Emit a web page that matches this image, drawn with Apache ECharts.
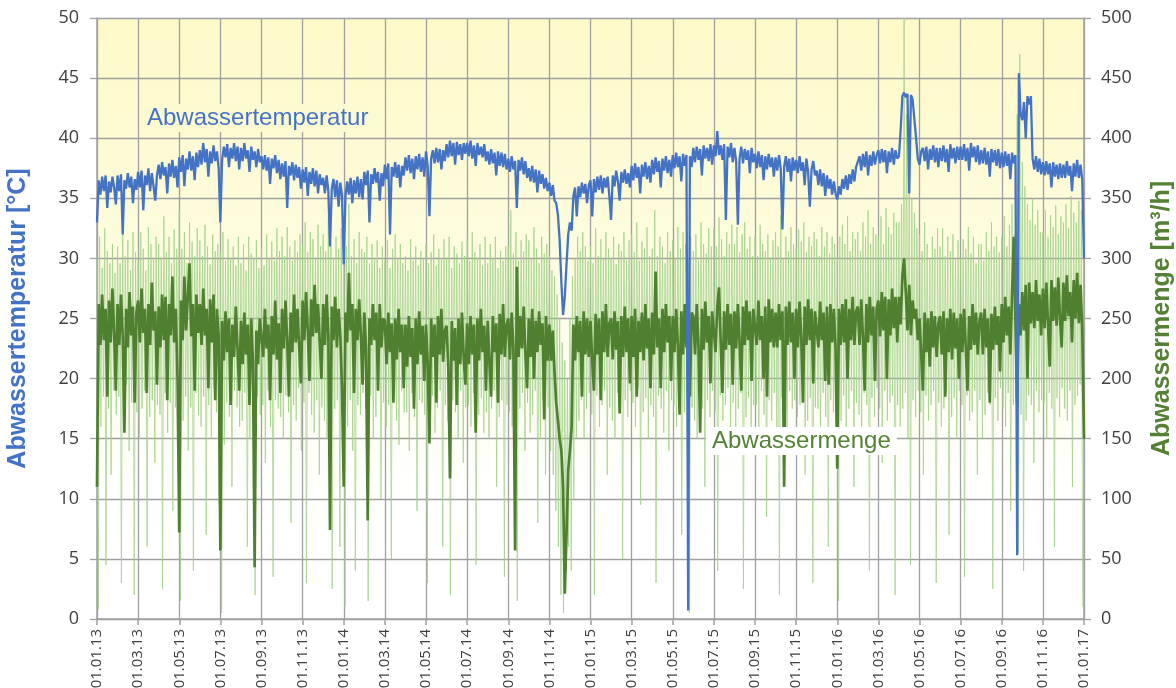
<!DOCTYPE html>
<html><head><meta charset="utf-8">
<script src="https://cdn.jsdelivr.net/npm/echarts@6/dist/echarts.min.js"></script>
<style>html,body{margin:0;padding:0;background:#fff}#c{width:1176px;height:688px}</style>
</head><body><div id="c"></div>
<script>
// x tick labels (every 2 months, x axis unit = month index from 01.01.13)
const xLabels = ['01.01.13','01.03.13','01.05.13','01.07.13','01.09.13','01.11.13',
  '01.01.14','01.03.14','01.05.14','01.07.14','01.09.14','01.11.14',
  '01.01.15','01.03.15','01.05.15','01.07.15','01.09.15','01.11.15',
  '01.01.16','01.03.16','01.05.16','01.07.16','01.09.16','01.11.16','01.01.17'];

// Abwassertemperatur [°C], 12 readings per month (Jan 2013 ... Dec 2016) + 01.01.17
const temperature = [
 33.0,36.5,35.3,36.8,35.6,36.9,34.2,36.4,35.5,36.8,35.9,34.5,
 36.9,35.6,37.0,32.0,36.5,35.8,37.1,35.9,36.8,34.6,36.6,35.7,
 37.2,35.9,37.3,34.0,36.9,36.1,37.5,35.6,37.1,36.0,34.8,36.9,
 37.8,36.6,38.0,36.9,37.6,35.4,37.9,36.8,38.2,36.7,37.7,35.9,
 38.4,37.2,38.6,36.0,38.3,37.4,38.9,37.3,38.5,36.5,38.8,37.6,
 39.0,37.8,39.6,38.0,39.1,36.8,38.9,37.9,39.4,38.1,38.9,37.5,
 33.0,38.2,39.3,38.4,39.5,37.6,39.2,38.3,39.6,38.1,39.3,37.4,
 39.2,38.1,39.6,38.3,39.0,37.2,39.3,38.2,38.9,37.6,39.1,38.0,
 38.5,37.4,38.6,37.3,38.4,36.2,38.3,37.5,38.6,37.1,38.2,36.6,
 37.9,36.8,38.1,34.2,37.7,36.9,38.0,36.5,37.8,36.7,37.6,35.8,
 37.4,36.3,37.6,35.2,37.2,36.2,37.5,36.0,37.3,35.4,37.0,36.1,
 36.7,35.4,36.9,35.6,31.0,35.8,36.6,35.1,36.5,34.3,36.3,35.2,
 29.5,35.2,36.4,35.3,36.7,34.6,36.5,35.4,36.8,35.1,36.6,34.9,
 37.2,36.1,37.3,33.0,37.0,36.2,37.5,36.3,37.2,34.8,37.1,36.0,
 37.8,36.6,37.9,32.0,37.6,36.8,38.0,36.7,37.8,35.9,37.7,36.9,
 38.4,37.3,38.6,37.1,38.3,36.6,38.5,37.4,38.7,37.2,38.4,36.8,
 38.9,37.7,33.5,38.3,39.0,37.9,39.2,38.0,39.1,37.4,39.0,38.1,
 39.5,38.4,39.8,38.5,39.6,37.8,39.7,38.6,39.5,38.2,39.6,38.7,
 39.6,38.5,39.8,38.3,39.4,37.7,39.6,38.6,39.3,38.4,39.5,38.1,
 38.9,37.8,39.1,37.9,38.8,36.9,38.9,37.7,38.8,37.6,38.7,37.4,
 38.3,37.2,38.5,37.4,38.1,34.2,38.2,37.3,38.4,37.0,38.1,36.7,
 37.5,36.4,37.7,36.3,37.4,35.5,37.3,36.2,37.0,35.8,36.7,35.6,
 36.3,35.2,36.1,34.8,34.6,33.6,31.5,28.0,25.3,26.8,29.5,32.0,
 33.0,32.3,35.2,35.9,33.5,36.0,35.1,36.3,35.4,36.2,34.6,36.1,
 36.5,33.5,36.6,35.5,36.8,35.7,36.9,35.4,36.7,35.9,36.8,35.2,
 33.2,36.9,36.0,37.3,36.4,34.8,37.2,36.3,37.4,36.2,37.1,35.9,
 37.7,36.5,37.9,36.7,37.6,35.4,37.8,36.8,38.0,36.6,37.7,36.3,
 38.2,37.0,38.4,37.2,38.1,35.9,38.3,37.3,38.5,37.1,38.2,36.8,
 38.6,37.5,38.8,37.6,38.5,36.4,38.7,37.7,38.6,0.7,38.5,37.6,
 39.2,38.0,39.3,38.2,39.1,36.9,39.4,38.3,39.2,38.1,39.5,37.8,
 39.4,38.5,40.6,38.6,39.4,38.2,39.5,33.2,39.3,38.4,39.6,38.0,
 39.2,38.1,32.8,38.3,39.3,37.9,39.1,38.2,39.0,37.1,39.2,38.0,
 38.7,37.5,38.9,37.6,38.6,36.5,38.5,37.4,38.7,37.6,38.4,36.8,
 38.4,37.3,38.6,37.5,32.4,37.6,38.5,37.2,38.3,36.4,38.4,37.3,
 38.2,37.1,38.5,37.3,38.0,36.1,38.3,37.2,34.3,37.4,38.1,36.9,
 37.3,36.1,37.4,36.0,37.1,35.2,36.9,35.8,36.6,35.3,36.4,35.4,
 34.9,36.0,35.3,36.6,35.8,36.9,35.7,37.0,36.2,37.4,36.4,37.6,
 37.6,38.5,37.3,38.7,37.6,38.9,36.9,38.6,37.7,38.9,37.8,38.6,
 39.0,37.9,39.1,38.0,39.0,37.1,38.9,38.0,39.2,37.8,39.0,38.3,
 38.5,40.7,43.5,43.8,43.4,43.7,35.4,43.6,43.2,43.1,40.0,38.3,
 37.8,38.9,39.2,38.1,39.3,37.4,39.1,38.2,39.4,38.0,39.2,37.6,
 39.2,38.1,39.4,38.0,39.1,37.2,39.5,38.3,39.2,37.9,39.3,38.2,
 39.3,38.2,39.5,38.1,39.2,37.3,39.6,38.4,39.3,38.0,39.4,37.8,
 39.0,37.9,39.2,37.8,38.9,36.8,39.1,38.0,39.0,37.7,39.1,37.5,
 38.8,37.6,38.9,37.7,38.7,36.6,38.8,37.9,38.6,5.3,45.4,42.0,
 41.5,43.0,40.0,43.5,42.8,43.5,38.3,37.4,38.5,37.2,38.3,37.0,
 38.0,36.9,38.1,37.0,37.9,35.9,38.0,36.8,37.8,36.6,37.9,36.7,
 37.8,36.7,38.1,36.9,37.7,35.6,37.9,36.8,38.2,36.7,37.8,36.5,
 30.0];

// Abwassermenge [m³/h], daily mean, 12 readings per month + 01.01.17
const flowMean = [
 110,262,228,270,232,258,185,265,230,275,238,190,
 262,228,270,235,155,258,226,272,236,260,180,255,
 265,230,275,238,258,188,262,228,280,240,256,195,
 260,226,270,232,268,182,262,236,285,230,258,200,
 72,265,232,285,240,268,296,235,262,190,270,238,
 262,228,275,236,258,192,266,230,270,182,258,236,
 57,248,215,256,222,250,178,245,218,260,225,190,
 248,212,255,220,245,178,250,215,43,240,212,250,
 250,218,258,225,245,182,252,220,265,216,246,188,
 258,225,265,232,185,255,222,270,230,258,226,196,
 265,232,272,240,198,266,235,278,238,262,230,200,
 262,228,270,236,74,260,232,268,226,258,235,190,
 110,255,230,288,240,262,188,258,232,266,236,195,
 255,225,82,250,228,262,232,255,190,262,226,250,
 248,212,255,222,246,180,250,216,258,222,245,192,
 245,210,252,218,242,175,250,212,256,220,244,198,
 245,212,146,250,218,245,180,252,220,258,214,240,
 244,210,117,248,215,242,178,250,212,255,218,195,
 246,212,252,220,245,155,250,215,258,222,244,190,
 248,214,185,252,222,246,180,254,220,262,218,245,
 250,216,255,225,57,293,218,252,225,260,220,192,
 250,218,258,200,248,222,256,228,246,166,252,215,
 245,215,240,205,180,165,150,140,110,21,70,124,
 140,160,245,215,252,222,248,185,256,220,250,218,
 248,215,190,254,220,250,182,256,222,262,218,246,
 250,216,256,224,248,171,252,218,260,222,250,196,
 252,218,258,185,248,222,255,215,262,225,250,192,
 255,220,289,226,250,192,258,222,262,230,252,198,
 252,222,258,228,170,256,220,262,226,250,185,255,
 252,220,262,228,155,258,224,264,230,252,196,256,
 255,222,260,276,230,188,256,224,262,228,254,195,
 256,225,262,230,190,260,228,265,232,256,198,258,
 258,228,265,232,252,200,260,185,266,230,258,226,
 255,226,262,232,256,110,260,228,264,230,255,200,
 258,226,264,234,180,260,228,266,232,258,196,256,
 256,226,264,232,255,198,260,195,262,230,258,225,
 125,258,228,262,230,266,200,258,232,268,228,256,
 260,228,266,234,190,262,230,268,236,260,198,258,
 265,235,272,240,268,200,266,236,275,242,268,230,
 268,245,285,300,272,240,278,236,265,250,258,232,
 250,220,190,255,222,250,210,256,226,252,218,246,
 252,220,256,185,250,222,258,216,255,225,250,200,
 254,222,258,226,190,252,224,262,228,255,220,248,
 255,220,258,226,250,180,254,224,260,228,252,206,
 262,230,268,236,260,220,270,318,245,180,262,236,
 272,240,278,200,280,246,272,242,282,248,270,236,
 275,242,280,246,210,282,248,276,244,284,250,226,
 280,248,286,252,272,230,282,250,288,246,278,240,
 150];

// Abwassermenge, short-interval values: 8 highs and 8 lows per month
const flowHigh = [
 300,318,292,325,306,296,312,288, 310,296,330,302,315,290,322,305,
 298,322,308,290,326,312,300,318, 312,300,335,305,318,296,324,308,
 340,308,322,296,330,314,302,325, 315,302,328,310,295,320,306,312,
 305,322,298,316,300,310,294,318, 296,312,290,318,304,300,315,292,
 308,294,320,300,314,298,325,306, 318,302,326,310,298,315,305,320,
 312,330,305,322,316,300,328,310, 320,306,334,312,300,318,308,325,
 328,310,345,302,316,296,322,308, 305,318,296,312,300,315,292,310,
 298,315,292,308,320,300,312,296, 302,290,316,298,310,294,306,300,
 312,296,305,320,294,308,300,316, 300,318,292,310,304,296,314,302,
 316,298,322,305,300,312,294,318, 296,312,300,318,292,306,298,310,
 310,340,304,322,298,315,306,320, 315,300,326,308,296,318,304,312,
 302,290,285,270,250,230,215,200, 250,285,300,318,306,322,310,298,
 310,296,325,302,316,300,322,308, 300,318,295,312,306,322,298,315,
 320,305,330,298,314,308,326,302, 308,340,302,318,310,296,322,306,
 315,300,326,308,322,312,300,318, 306,320,298,330,312,304,325,310,
 325,310,334,316,302,322,312,328, 312,326,305,320,330,308,318,302,
 318,302,328,312,306,320,300,315, 322,310,336,300,318,306,326,312,
 308,324,314,330,305,318,310,322, 316,302,326,310,322,304,318,312,
 300,318,328,312,335,306,322,316, 322,306,330,318,340,312,326,320,
 318,335,312,342,326,320,338,330, 330,345,500,420,380,350,338,325,
 320,306,330,312,300,318,308,325, 310,325,302,318,306,320,300,315,
 300,316,308,326,304,318,296,312, 312,298,322,306,330,310,318,305,
 318,335,310,328,345,320,420,470, 380,360,345,332,350,328,340,322,
 322,340,318,336,326,344,320,335, 330,345,325,352,338,330,348,340];
const flowLow = [
 8,160,185,45,175,120,190,170, 185,30,165,195,140,180,20,172,
 150,175,190,60,168,182,130,178, 170,25,188,155,180,90,176,192,
 15,165,185,140,176,40,188,170, 160,185,70,178,150,192,172,95,
 5,145,180,168,110,190,176,160, 165,188,60,150,178,20,185,170,
 178,130,190,160,35,182,175,168, 150,186,172,80,178,165,192,140,
 180,30,188,170,155,182,120,176, 165,150,190,25,175,182,60,170,
 10,160,182,140,40,178,170,188, 175,15,186,150,168,192,100,180,
 160,178,50,185,165,145,190,172, 172,140,188,168,90,182,180,170,
 30,170,186,155,176,190,60,178, 165,20,182,172,150,190,130,176,
 178,160,188,45,170,184,155,172, 150,175,190,110,168,182,35,178,
 172,160,186,15,175,188,140,180, 155,170,190,80,150,182,120,176,
 140,120,90,60,20,5,40,60, 40,100,150,165,182,150,175,188,
 170,20,186,160,178,190,120,176, 165,150,188,175,50,182,168,190,
 180,160,192,95,172,184,150,178, 168,30,186,175,155,190,140,182,
 178,160,190,70,172,184,5,176, 165,150,188,175,110,182,168,190,
 172,40,186,165,178,192,150,180, 160,175,188,25,168,184,140,178,
 178,155,190,170,85,182,165,188, 150,20,184,172,160,190,175,182,
 168,178,190,120,165,184,30,176, 175,150,188,168,60,182,172,190,
 15,165,186,150,175,190,110,180, 170,160,188,178,40,184,168,192,
 175,130,190,165,180,186,20,178, 160,175,188,150,45,182,168,190,
 172,120,186,165,178,190,30,180, 160,175,188,70,168,184,150,190,
 178,35,186,165,172,190,120,182, 150,170,188,178,25,184,165,192,
 175,160,188,90,178,184,55,170, 40,165,186,178,130,190,172,182,
 180,150,188,175,60,184,168,192, 175,165,190,110,178,186,195,10];

const tempData = temperature.map((v, i) => [i / 12, v]);
const meanData = flowMean.map((v, i) => [i / 12, v]);
const rawData = [];
flowHigh.forEach((h, i) => {
  rawData.push([i / 8, h]);
  rawData.push([i / 8 + 1 / 16, flowLow[i]]);
});

const gridGray = '#a0a0a0';
const labelFont = '"Open Sans", "Liberation Sans", sans-serif';

const chart = echarts.init(document.getElementById('c'), null, {renderer: 'canvas'});
chart.setOption({
  animation: false,
  backgroundColor: '#ffffff',
  grid: {
    left: 97, right: 92, top: 18, bottom: 69, show: true, borderWidth: 0,
    outerBoundsMode: 'none', containLabel: false,
    backgroundColor: {
      type: 'linear', x: 0, y: 0, x2: 0, y2: 1,
      colorStops: [
        {offset: 0, color: '#fdf9c8'},
        {offset: 0.35, color: '#fdfcdc'},
        {offset: 0.6, color: '#fefef2'},
        {offset: 0.8, color: '#ffffff'},
        {offset: 1, color: '#ffffff'}
      ]
    }
  },
  xAxis: {
    type: 'value', min: 0, max: 48, interval: 2,
    axisLine: {show: true, lineStyle: {color: gridGray, width: 1.5}},
    axisTick: {show: true, length: 6, lineStyle: {color: gridGray, width: 1.5}},
    splitLine: {show: true, lineStyle: {color: gridGray, width: 1.3}},
    axisLabel: {
      rotate: 90, margin: 10, fontSize: 15, color: '#404040', fontFamily: labelFont,
      formatter: v => xLabels[Math.round(v / 2)] || ''
    }
  },
  yAxis: [{
    type: 'value', min: 0, max: 50, interval: 5, position: 'left',
    name: 'Abwassertemperatur [°C]', nameLocation: 'middle', nameRotate: 90, nameGap: 66,
    nameTextStyle: {color: '#4472C4', fontSize: 25, fontWeight: 'bold', fontFamily: '"Liberation Sans", Arial, sans-serif'},
    axisLine: {show: true, lineStyle: {color: gridGray, width: 1.5}},
    axisTick: {show: true, length: 7, lineStyle: {color: gridGray, width: 1.3}},
    splitLine: {show: true, lineStyle: {color: gridGray, width: 1.3}},
    axisLabel: {margin: 18, fontSize: 18, color: '#404040', fontFamily: labelFont}
  }, {
    type: 'value', min: 0, max: 500, interval: 50, position: 'right',
    name: 'Abwassermenge [m³/h]', nameLocation: 'middle', nameRotate: 90, nameGap: 66,
    nameTextStyle: {color: '#548235', fontSize: 25, fontWeight: 'bold', fontFamily: '"Liberation Sans", Arial, sans-serif'},
    axisLine: {show: true, lineStyle: {color: gridGray, width: 1.5}},
    axisTick: {show: true, length: 7, lineStyle: {color: gridGray, width: 1.3}},
    splitLine: {show: false},
    axisLabel: {margin: 17, fontSize: 18, color: '#404040', fontFamily: labelFont}
  }],
  series: [{
    name: 'Abwassermenge (Einzelwerte)', type: 'line', yAxisIndex: 1, data: rawData,
    showSymbol: false, symbol: 'none', z: 1,
    lineStyle: {color: '#a2d088', width: 1, opacity: 0.75}
  }, {
    name: 'Abwassermenge', type: 'line', yAxisIndex: 1, data: meanData,
    showSymbol: false, symbol: 'none', z: 2,
    lineStyle: {color: '#4f8030', width: 2.7}
  }, {
    name: 'Abwassertemperatur', type: 'line', yAxisIndex: 0, data: tempData,
    showSymbol: false, symbol: 'none', z: 3,
    lineStyle: {color: '#4472C4', width: 2.3}
  }],
  graphic: [{
    type: 'text', left: 141, top: 104, z: 100,
    style: {
      text: 'Abwassertemperatur', fill: '#4472C4',
      font: '24px "Liberation Sans", Arial, sans-serif',
      backgroundColor: '#fcfad0', padding: [2, 6, 2, 6]
    }
  }, {
    type: 'text', left: 706, top: 427, z: 100,
    style: {
      text: 'Abwassermenge', fill: '#548235',
      font: '24px "Liberation Sans", Arial, sans-serif',
      backgroundColor: '#ffffff', padding: [2, 6, 2, 6]
    }
  }]
});
</script>
</body></html>
